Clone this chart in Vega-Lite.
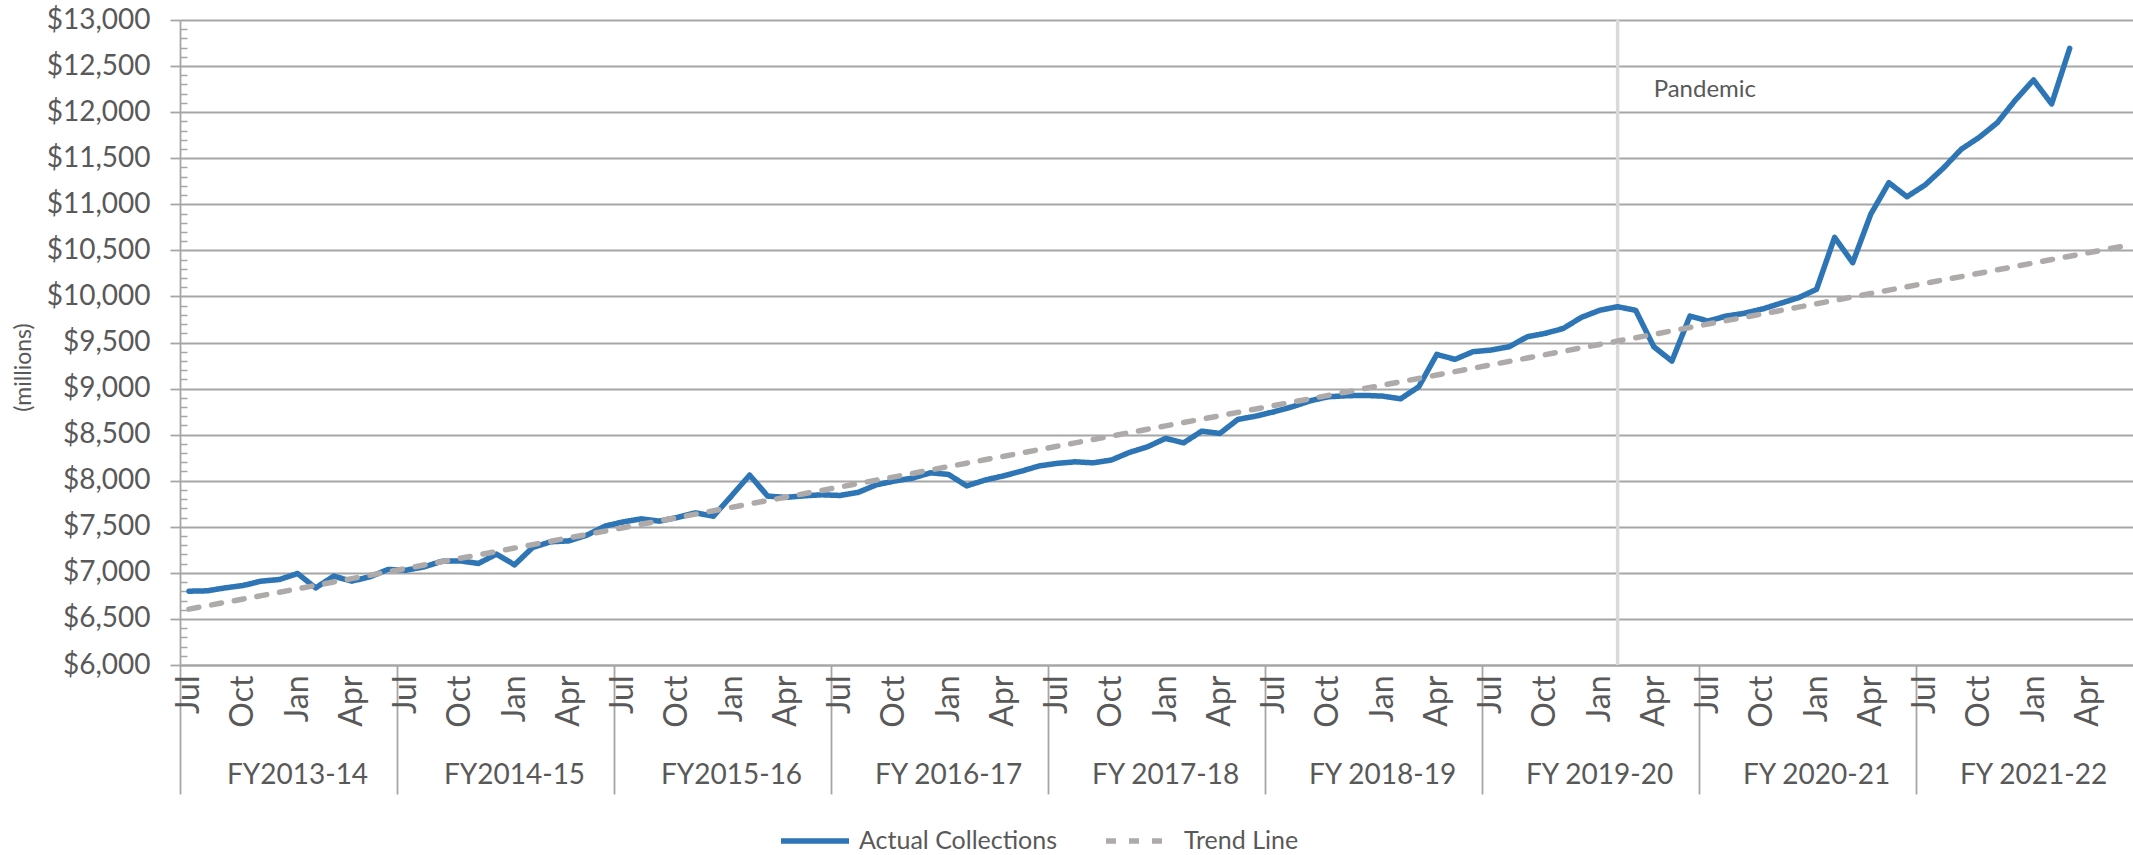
{
  "$schema": "https://vega.github.io/schema/vega-lite/v6.json",
  "width": 1953,
  "height": 645,
  "autosize": {"type": "none"},
  "padding": {"left": 180, "top": 20, "right": 0, "bottom": 190},
  "background": "white",
  "config": {"view": {"stroke": null}, "font": "Lato"},
  "data": {"values": [
    {"k": "FY2013-14|Jul", "Actual Collections": 6801, "Trend Line": 6606},
    {"k": "FY2013-14|Aug", "Actual Collections": 6805, "Trend Line": 6643},
    {"k": "FY2013-14|Sep", "Actual Collections": 6837, "Trend Line": 6680},
    {"k": "FY2013-14|Oct", "Actual Collections": 6863, "Trend Line": 6716},
    {"k": "FY2013-14|Nov", "Actual Collections": 6910, "Trend Line": 6753},
    {"k": "FY2013-14|Dec", "Actual Collections": 6928, "Trend Line": 6790},
    {"k": "FY2013-14|Jan", "Actual Collections": 6993, "Trend Line": 6827},
    {"k": "FY2013-14|Feb", "Actual Collections": 6837, "Trend Line": 6864},
    {"k": "FY2013-14|Mar", "Actual Collections": 6964, "Trend Line": 6901},
    {"k": "FY2013-14|Apr", "Actual Collections": 6910, "Trend Line": 6937},
    {"k": "FY2013-14|May", "Actual Collections": 6957, "Trend Line": 6974},
    {"k": "FY2013-14|Jun", "Actual Collections": 7037, "Trend Line": 7011},
    {"k": "FY2014-15|Jul", "Actual Collections": 7029, "Trend Line": 7048},
    {"k": "FY2014-15|Aug", "Actual Collections": 7065, "Trend Line": 7085},
    {"k": "FY2014-15|Sep", "Actual Collections": 7127, "Trend Line": 7122},
    {"k": "FY2014-15|Oct", "Actual Collections": 7130, "Trend Line": 7158},
    {"k": "FY2014-15|Nov", "Actual Collections": 7102, "Trend Line": 7195},
    {"k": "FY2014-15|Dec", "Actual Collections": 7203, "Trend Line": 7232},
    {"k": "FY2014-15|Jan", "Actual Collections": 7087, "Trend Line": 7269},
    {"k": "FY2014-15|Feb", "Actual Collections": 7276, "Trend Line": 7306},
    {"k": "FY2014-15|Mar", "Actual Collections": 7337, "Trend Line": 7343},
    {"k": "FY2014-15|Apr", "Actual Collections": 7347, "Trend Line": 7380},
    {"k": "FY2014-15|May", "Actual Collections": 7409, "Trend Line": 7416},
    {"k": "FY2014-15|Jun", "Actual Collections": 7507, "Trend Line": 7453},
    {"k": "FY2015-16|Jul", "Actual Collections": 7552, "Trend Line": 7490},
    {"k": "FY2015-16|Aug", "Actual Collections": 7586, "Trend Line": 7527},
    {"k": "FY2015-16|Sep", "Actual Collections": 7561, "Trend Line": 7564},
    {"k": "FY2015-16|Oct", "Actual Collections": 7601, "Trend Line": 7600},
    {"k": "FY2015-16|Nov", "Actual Collections": 7651, "Trend Line": 7637},
    {"k": "FY2015-16|Dec", "Actual Collections": 7615, "Trend Line": 7674},
    {"k": "FY2015-16|Jan", "Actual Collections": 7836, "Trend Line": 7711},
    {"k": "FY2015-16|Feb", "Actual Collections": 8061, "Trend Line": 7748},
    {"k": "FY2015-16|Mar", "Actual Collections": 7833, "Trend Line": 7785},
    {"k": "FY2015-16|Apr", "Actual Collections": 7819, "Trend Line": 7821},
    {"k": "FY2015-16|May", "Actual Collections": 7836, "Trend Line": 7858},
    {"k": "FY2015-16|Jun", "Actual Collections": 7847, "Trend Line": 7895},
    {"k": "FY 2016-17|Jul", "Actual Collections": 7840, "Trend Line": 7932},
    {"k": "FY 2016-17|Aug", "Actual Collections": 7873, "Trend Line": 7969},
    {"k": "FY 2016-17|Sep", "Actual Collections": 7955, "Trend Line": 8006},
    {"k": "FY 2016-17|Oct", "Actual Collections": 7996, "Trend Line": 8042},
    {"k": "FY 2016-17|Nov", "Actual Collections": 8028, "Trend Line": 8079},
    {"k": "FY 2016-17|Dec", "Actual Collections": 8086, "Trend Line": 8116},
    {"k": "FY 2016-17|Jan", "Actual Collections": 8068, "Trend Line": 8153},
    {"k": "FY 2016-17|Feb", "Actual Collections": 7944, "Trend Line": 8190},
    {"k": "FY 2016-17|Mar", "Actual Collections": 8006, "Trend Line": 8227},
    {"k": "FY 2016-17|Apr", "Actual Collections": 8050, "Trend Line": 8263},
    {"k": "FY 2016-17|May", "Actual Collections": 8102, "Trend Line": 8300},
    {"k": "FY 2016-17|Jun", "Actual Collections": 8160, "Trend Line": 8337},
    {"k": "FY 2017-18|Jul", "Actual Collections": 8188, "Trend Line": 8374},
    {"k": "FY 2017-18|Aug", "Actual Collections": 8205, "Trend Line": 8411},
    {"k": "FY 2017-18|Sep", "Actual Collections": 8194, "Trend Line": 8448},
    {"k": "FY 2017-18|Oct", "Actual Collections": 8224, "Trend Line": 8484},
    {"k": "FY 2017-18|Nov", "Actual Collections": 8307, "Trend Line": 8521},
    {"k": "FY 2017-18|Dec", "Actual Collections": 8368, "Trend Line": 8558},
    {"k": "FY 2017-18|Jan", "Actual Collections": 8459, "Trend Line": 8595},
    {"k": "FY 2017-18|Feb", "Actual Collections": 8411, "Trend Line": 8632},
    {"k": "FY 2017-18|Mar", "Actual Collections": 8538, "Trend Line": 8668},
    {"k": "FY 2017-18|Apr", "Actual Collections": 8513, "Trend Line": 8705},
    {"k": "FY 2017-18|May", "Actual Collections": 8665, "Trend Line": 8742},
    {"k": "FY 2017-18|Jun", "Actual Collections": 8701, "Trend Line": 8779},
    {"k": "FY 2018-19|Jul", "Actual Collections": 8748, "Trend Line": 8816},
    {"k": "FY 2018-19|Aug", "Actual Collections": 8802, "Trend Line": 8853},
    {"k": "FY 2018-19|Sep", "Actual Collections": 8867, "Trend Line": 8889},
    {"k": "FY 2018-19|Oct", "Actual Collections": 8911, "Trend Line": 8926},
    {"k": "FY 2018-19|Nov", "Actual Collections": 8922, "Trend Line": 8963},
    {"k": "FY 2018-19|Dec", "Actual Collections": 8926, "Trend Line": 9000},
    {"k": "FY 2018-19|Jan", "Actual Collections": 8918, "Trend Line": 9037},
    {"k": "FY 2018-19|Feb", "Actual Collections": 8889, "Trend Line": 9074},
    {"k": "FY 2018-19|Mar", "Actual Collections": 9019, "Trend Line": 9110},
    {"k": "FY 2018-19|Apr", "Actual Collections": 9371, "Trend Line": 9147},
    {"k": "FY 2018-19|May", "Actual Collections": 9317, "Trend Line": 9184},
    {"k": "FY 2018-19|Jun", "Actual Collections": 9400, "Trend Line": 9221},
    {"k": "FY 2019-20|Jul", "Actual Collections": 9418, "Trend Line": 9258},
    {"k": "FY 2019-20|Aug", "Actual Collections": 9454, "Trend Line": 9295},
    {"k": "FY 2019-20|Sep", "Actual Collections": 9562, "Trend Line": 9331},
    {"k": "FY 2019-20|Oct", "Actual Collections": 9599, "Trend Line": 9368},
    {"k": "FY 2019-20|Nov", "Actual Collections": 9653, "Trend Line": 9405},
    {"k": "FY 2019-20|Dec", "Actual Collections": 9773, "Trend Line": 9442},
    {"k": "FY 2019-20|Jan", "Actual Collections": 9849, "Trend Line": 9479},
    {"k": "FY 2019-20|Feb", "Actual Collections": 9888, "Trend Line": 9516, "event": "Pandemic"},
    {"k": "FY 2019-20|Mar", "Actual Collections": 9849, "Trend Line": 9552},
    {"k": "FY 2019-20|Apr", "Actual Collections": 9454, "Trend Line": 9589},
    {"k": "FY 2019-20|May", "Actual Collections": 9298, "Trend Line": 9626},
    {"k": "FY 2019-20|Jun", "Actual Collections": 9787, "Trend Line": 9663},
    {"k": "FY 2020-21|Jul", "Actual Collections": 9733, "Trend Line": 9700},
    {"k": "FY 2020-21|Aug", "Actual Collections": 9787, "Trend Line": 9737},
    {"k": "FY 2020-21|Sep", "Actual Collections": 9816, "Trend Line": 9773},
    {"k": "FY 2020-21|Oct", "Actual Collections": 9863, "Trend Line": 9810},
    {"k": "FY 2020-21|Nov", "Actual Collections": 9925, "Trend Line": 9847},
    {"k": "FY 2020-21|Dec", "Actual Collections": 9986, "Trend Line": 9884},
    {"k": "FY 2020-21|Jan", "Actual Collections": 10077, "Trend Line": 9921},
    {"k": "FY 2020-21|Feb", "Actual Collections": 10641, "Trend Line": 9958},
    {"k": "FY 2020-21|Mar", "Actual Collections": 10366, "Trend Line": 9994},
    {"k": "FY 2020-21|Apr", "Actual Collections": 10893, "Trend Line": 10031},
    {"k": "FY 2020-21|May", "Actual Collections": 11234, "Trend Line": 10068},
    {"k": "FY 2020-21|Jun", "Actual Collections": 11082, "Trend Line": 10105},
    {"k": "FY 2021-22|Jul", "Actual Collections": 11209, "Trend Line": 10142},
    {"k": "FY 2021-22|Aug", "Actual Collections": 11390, "Trend Line": 10179},
    {"k": "FY 2021-22|Sep", "Actual Collections": 11597, "Trend Line": 10215},
    {"k": "FY 2021-22|Oct", "Actual Collections": 11727, "Trend Line": 10252},
    {"k": "FY 2021-22|Nov", "Actual Collections": 11886, "Trend Line": 10289},
    {"k": "FY 2021-22|Dec", "Actual Collections": 12132, "Trend Line": 10326},
    {"k": "FY 2021-22|Jan", "Actual Collections": 12349, "Trend Line": 10363},
    {"k": "FY 2021-22|Feb", "Actual Collections": 12089, "Trend Line": 10400},
    {"k": "FY 2021-22|Mar", "Actual Collections": 12693, "Trend Line": 10436},
    {"k": "FY 2021-22|Apr", "Actual Collections": null, "Trend Line": 10473},
    {"k": "FY 2021-22|May", "Actual Collections": null, "Trend Line": 10510},
    {"k": "FY 2021-22|Jun", "Actual Collections": null, "Trend Line": 10547}
  ]},
  "resolve": {"axis": {"x": "independent", "y": "independent"}},
  "layer": [
    {
      "transform": [{"filter": "datum.event == 'Pandemic'"}],
      "mark": {"type": "rule", "color": "#D9D9D9", "strokeWidth": 3.5},
      "encoding": {
        "x": {
          "field": "k", "type": "ordinal", "bandPosition": 0.5,
          "axis": {
            "orient": "bottom", "title": null, "domain": false, "grid": false,
            "values": ["FY2013-14|Jul", "FY2014-15|Jul", "FY2015-16|Jul", "FY 2016-17|Jul", "FY 2017-18|Jul", "FY 2018-19|Jul", "FY 2019-20|Jul", "FY 2020-21|Jul", "FY 2021-22|Jul"],
            "bandPosition": 0,
            "ticks": true, "tickSize": 129, "tickColor": "#A6A6A6", "tickWidth": 1.8,
            "labelExpr": "split(datum.value, '|')[0]",
            "labelAngle": 0, "labelAlign": "center", "labelBaseline": "middle",
            "labelOffset": 108.5, "labelPadding": -19,
            "labelFont": "Lato", "labelFontSize": 28, "labelColor": "#595959",
            "labelOverlap": false, "labelBound": false, "labelFlush": false, "labelLimit": 400
          }
        }
      }
    },
    {
      "transform": [{"fold": ["Actual Collections", "Trend Line"], "as": ["series", "value"]}],
      "mark": {"type": "line", "strokeWidth": 5.5, "strokeCap": "round", "strokeJoin": "round"},
      "encoding": {
        "x": {
          "field": "k", "type": "ordinal", "bandPosition": 0.5,
          "scale": {
            "type": "band", "paddingInner": 0, "paddingOuter": 0,
            "domain": [
              "FY2013-14|Jul","FY2013-14|Aug","FY2013-14|Sep","FY2013-14|Oct","FY2013-14|Nov","FY2013-14|Dec","FY2013-14|Jan","FY2013-14|Feb","FY2013-14|Mar","FY2013-14|Apr","FY2013-14|May","FY2013-14|Jun",
              "FY2014-15|Jul","FY2014-15|Aug","FY2014-15|Sep","FY2014-15|Oct","FY2014-15|Nov","FY2014-15|Dec","FY2014-15|Jan","FY2014-15|Feb","FY2014-15|Mar","FY2014-15|Apr","FY2014-15|May","FY2014-15|Jun",
              "FY2015-16|Jul","FY2015-16|Aug","FY2015-16|Sep","FY2015-16|Oct","FY2015-16|Nov","FY2015-16|Dec","FY2015-16|Jan","FY2015-16|Feb","FY2015-16|Mar","FY2015-16|Apr","FY2015-16|May","FY2015-16|Jun",
              "FY 2016-17|Jul","FY 2016-17|Aug","FY 2016-17|Sep","FY 2016-17|Oct","FY 2016-17|Nov","FY 2016-17|Dec","FY 2016-17|Jan","FY 2016-17|Feb","FY 2016-17|Mar","FY 2016-17|Apr","FY 2016-17|May","FY 2016-17|Jun",
              "FY 2017-18|Jul","FY 2017-18|Aug","FY 2017-18|Sep","FY 2017-18|Oct","FY 2017-18|Nov","FY 2017-18|Dec","FY 2017-18|Jan","FY 2017-18|Feb","FY 2017-18|Mar","FY 2017-18|Apr","FY 2017-18|May","FY 2017-18|Jun",
              "FY 2018-19|Jul","FY 2018-19|Aug","FY 2018-19|Sep","FY 2018-19|Oct","FY 2018-19|Nov","FY 2018-19|Dec","FY 2018-19|Jan","FY 2018-19|Feb","FY 2018-19|Mar","FY 2018-19|Apr","FY 2018-19|May","FY 2018-19|Jun",
              "FY 2019-20|Jul","FY 2019-20|Aug","FY 2019-20|Sep","FY 2019-20|Oct","FY 2019-20|Nov","FY 2019-20|Dec","FY 2019-20|Jan","FY 2019-20|Feb","FY 2019-20|Mar","FY 2019-20|Apr","FY 2019-20|May","FY 2019-20|Jun",
              "FY 2020-21|Jul","FY 2020-21|Aug","FY 2020-21|Sep","FY 2020-21|Oct","FY 2020-21|Nov","FY 2020-21|Dec","FY 2020-21|Jan","FY 2020-21|Feb","FY 2020-21|Mar","FY 2020-21|Apr","FY 2020-21|May","FY 2020-21|Jun",
              "FY 2021-22|Jul","FY 2021-22|Aug","FY 2021-22|Sep","FY 2021-22|Oct","FY 2021-22|Nov","FY 2021-22|Dec","FY 2021-22|Jan","FY 2021-22|Feb","FY 2021-22|Mar","FY 2021-22|Apr","FY 2021-22|May","FY 2021-22|Jun"
            ]
          },
          "axis": {
            "orient": "bottom", "title": null, "grid": false, "ticks": false,
            "domain": true, "domainColor": "#A6A6A6", "domainWidth": 1.8,
            "labelExpr": "indexof(['Jul','Oct','Jan','Apr'], split(datum.value, '|')[1]) >= 0 ? split(datum.value, '|')[1] : ''",
            "labelAngle": -90, "labelAlign": "right", "labelBaseline": "middle", "labelPadding": 10,
            "labelFont": "Lato", "labelFontSize": 32, "labelColor": "#595959",
            "labelOverlap": false, "labelBound": false, "labelFlush": false
          }
        },
        "y": {
          "field": "value", "type": "quantitative",
          "scale": {"domain": [6000, 13000], "nice": false, "zero": false},
          "axis": {
            "orient": "left",
            "values": [6000, 6500, 7000, 7500, 8000, 8500, 9000, 9500, 10000, 10500, 11000, 11500, 12000, 12500, 13000],
            "format": "$,.0f",
            "grid": true, "gridColor": "#A6A6A6", "gridWidth": 1.8,
            "ticks": true, "tickSize": 10, "tickColor": "#A6A6A6", "tickWidth": 1.8,
            "domain": true, "domainColor": "#A6A6A6", "domainWidth": 1.8,
            "labelFont": "Lato", "labelFontSize": 28, "labelColor": "#595959", "labelPadding": 20,
            "title": "(millions)", "titleFont": "Lato", "titleFontSize": 23, "titleFontWeight": "normal", "titleColor": "#595959",
            "titleX": -157, "titleY": 347, "titleAngle": -90, "titleAlign": "center", "titleBaseline": "middle"
          }
        },
        "color": {
          "field": "series", "type": "nominal",
          "scale": {"domain": ["Actual Collections", "Trend Line"], "range": ["#2E75B6", "#AEAAAA"]},
          "legend": {
            "title": null, "orient": "none", "legendX": 598, "legendY": 806, "direction": "horizontal",
            "symbolType": "stroke", "symbolSize": 4624, "symbolStrokeWidth": 5.5, "clipHeight": 30,
            "labelFont": "Lato", "labelFontSize": 25, "labelColor": "#595959", "labelOffset": 7, "labelLimit": 400,
            "columnPadding": 45
          }
        },
        "strokeDash": {
          "field": "series", "type": "nominal",
          "scale": {"domain": ["Actual Collections", "Trend Line"], "range": [[1, 0], [10, 13]]},
          "legend": {
            "title": null, "orient": "none", "legendX": 598, "legendY": 806, "direction": "horizontal",
            "symbolType": "stroke", "symbolSize": 4624, "symbolStrokeWidth": 5.5, "clipHeight": 30,
            "labelFont": "Lato", "labelFontSize": 25, "labelColor": "#595959", "labelOffset": 7, "labelLimit": 400,
            "columnPadding": 45
          }
        }
      }
    },
    {
      "transform": [{"filter": "datum.event == 'Pandemic'"}],
      "mark": {"type": "text", "align": "left", "baseline": "middle", "dx": 36, "font": "Lato", "fontSize": 24, "color": "#595959"},
      "encoding": {
        "x": {"field": "k", "type": "ordinal", "bandPosition": 0.5, "axis": null},
        "y": {
          "datum": 12240, "type": "quantitative",
          "axis": {
            "orient": "left", "title": null, "labels": false, "domain": false, "grid": false,
            "ticks": true, "tickSize": -7, "tickColor": "#A6A6A6", "tickWidth": 1.5,
            "values": [6100,6200,6300,6400,6600,6700,6800,6900,7100,7200,7300,7400,7600,7700,7800,7900,8100,8200,8300,8400,8600,8700,8800,8900,9100,9200,9300,9400,9600,9700,9800,9900,10100,10200,10300,10400,10600,10700,10800,10900,11100,11200,11300,11400,11600,11700,11800,11900,12100,12200,12300,12400,12600,12700,12800,12900]
          }
        },
        "text": {"field": "event"}
      }
    }
  ]
}
